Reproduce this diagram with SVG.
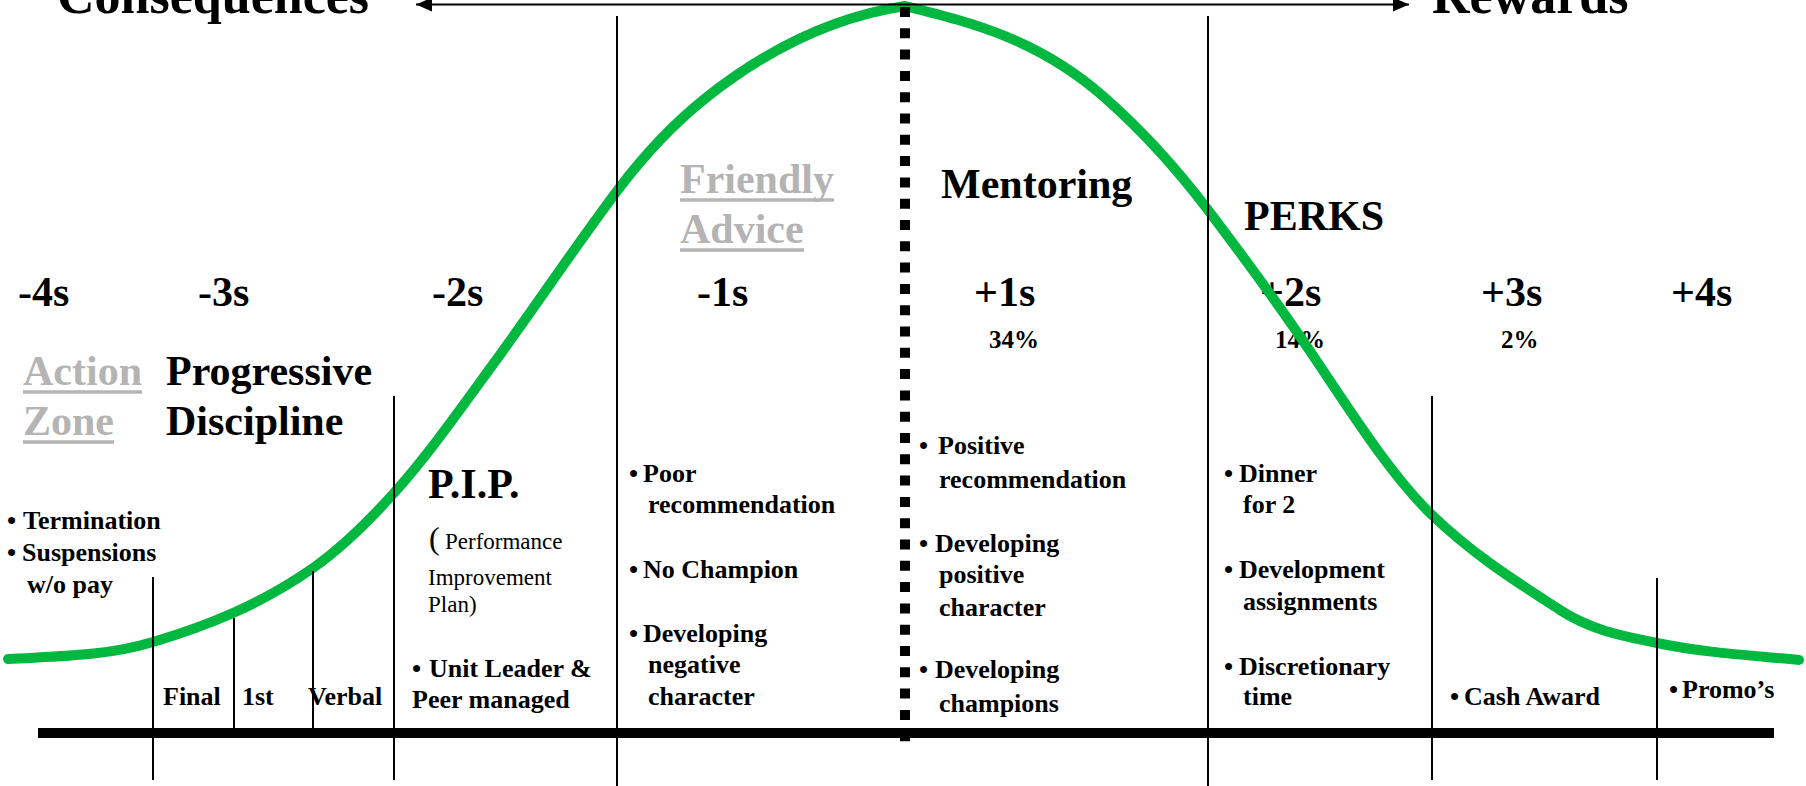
<svg xmlns="http://www.w3.org/2000/svg" width="1806" height="786" viewBox="0 0 1806 786">
  <style>
    text { font-family: "Liberation Serif", "Times New Roman", serif; font-weight: bold; fill: #000; }
    .big { font-size: 52px; }
    .h { font-size: 42px; }
    .pct { font-size: 25px; }
    .b { font-size: 26px; }
    .grey { fill: #b4b4b4; }
    .reg { font-weight: normal; font-size: 23px; }
    .paren { font-weight: normal; font-size: 32px; }
    .ul { stroke: #b4b4b4; stroke-width: 3.5; }
    .rule { stroke: #000; stroke-width: 2; fill: none; }
    .curve { stroke: #00b83f; stroke-width: 10; fill: none; stroke-linejoin: round; stroke-linecap: round; }
    .mean { stroke: #000; stroke-width: 10; stroke-dasharray: 10 11.3; fill: none; }
    .axis { stroke: #000; stroke-width: 10; }
    .span { stroke: #000; stroke-width: 2.2; fill: none; }
  </style>
  <defs>
    <marker id="tip" viewBox="0 0 16 14" refX="16" refY="7" markerWidth="16" markerHeight="14" markerUnits="userSpaceOnUse" orient="auto-start-reverse">
      <path d="M0,0 L16,7 L0,14 z" fill="#000"/>
    </marker>
  </defs>

  <!-- end labels of the scale -->
  <g id="consequences"><text class="big" x="57" y="13">Consequences</text></g>
  <g id="rewards"><text class="big" x="1432" y="13">Rewards</text></g>

  <!-- sigma scale -->
  <g id="sigma-minus4"><text class="h" x="18" y="306">-4s</text></g>
  <g id="sigma-minus3"><text class="h" x="198" y="306">-3s</text></g>
  <g id="sigma-minus2"><text class="h" x="432" y="306">-2s</text></g>
  <g id="sigma-minus1"><text class="h" x="697" y="306">-1s</text></g>
  <g id="sigma-plus1"><text class="h" x="974" y="306">+1s</text><text class="pct" x="989" y="348">34%</text></g>
  <g id="sigma-plus2"><text class="h" x="1260" y="306">+2s</text><text class="pct" x="1275" y="348">14%</text></g>
  <g id="sigma-plus3"><text class="h" x="1481" y="306">+3s</text><text class="pct" x="1501" y="348">2%</text></g>
  <g id="sigma-plus4"><text class="h" x="1671" y="306">+4s</text></g>

  <!-- zone headings -->
  <g id="action-zone">
    <text class="h grey" x="23" y="385">Action</text>
    <line class="ul" x1="23" y1="392" x2="142" y2="392"/>
    <text class="h grey" x="23" y="435">Zone</text>
    <line class="ul" x1="23" y1="442" x2="114" y2="442"/>
  </g>
  <g id="progressive-discipline">
    <text class="h" x="166" y="385">Progressive</text>
    <text class="h" x="166" y="435">Discipline</text>
  </g>
  <g id="friendly-advice">
    <text class="h grey" x="680" y="193">Friendly</text>
    <line class="ul" x1="680" y1="200" x2="834" y2="200"/>
    <text class="h grey" x="680" y="243">Advice</text>
    <line class="ul" x1="680" y1="250" x2="804" y2="250"/>
  </g>
  <g id="mentoring"><text class="h" x="941" y="198">Mentoring</text></g>
  <g id="perks"><text class="h" x="1244" y="230">PERKS</text></g>

  <!-- -4s column -->
  <g id="action-items">
    <text class="b"><tspan x="7" y="529">•</tspan><tspan x="23">Termination</tspan></text>
    <text class="b"><tspan x="7" y="561">•</tspan><tspan x="22">Suspensions</tspan></text>
    <text class="b" x="27" y="593">w/o pay</text>
  </g>

  <!-- warning steps -->
  <g id="step-final"><text class="b" x="163" y="705">Final</text></g>
  <g id="step-1st"><text class="b" x="242" y="705">1st</text></g>
  <g id="step-verbal"><text class="b" x="308" y="705">Verbal</text></g>

  <!-- -2s column -->
  <g id="pip">
    <text class="h" x="428" y="498">P.I.P.</text>
    <text><tspan class="paren" x="429" y="549">(</tspan><tspan class="reg" x="445" y="549">Performance</tspan></text>
    <text class="reg" x="428" y="585">Improvement</text>
    <text class="reg" x="428" y="612">Plan)</text>
    <text class="b"><tspan x="412" y="677">•</tspan><tspan x="429">Unit Leader &amp;</tspan></text>
    <text class="b" x="412" y="708">Peer managed</text>
  </g>

  <!-- -1s column -->
  <g id="advice-items">
    <text class="b"><tspan x="629" y="482">•</tspan><tspan x="643">Poor</tspan></text>
    <text class="b" x="648" y="513">recommendation</text>
    <text class="b"><tspan x="629" y="578">•</tspan><tspan x="643">No Champion</tspan></text>
    <text class="b"><tspan x="629" y="642">•</tspan><tspan x="643">Developing</tspan></text>
    <text class="b" x="648" y="673">negative</text>
    <text class="b" x="648" y="705">character</text>
  </g>

  <!-- +1s column -->
  <g id="mentoring-items">
    <text class="b"><tspan x="919" y="454">•</tspan><tspan x="938">Positive</tspan></text>
    <text class="b" x="939" y="488">recommendation</text>
    <text class="b"><tspan x="919" y="552">•</tspan><tspan x="935">Developing</tspan></text>
    <text class="b" x="939" y="583">positive</text>
    <text class="b" x="939" y="616">character</text>
    <text class="b"><tspan x="919" y="678">•</tspan><tspan x="935">Developing</tspan></text>
    <text class="b" x="939" y="712">champions</text>
  </g>

  <!-- +2s column -->
  <g id="perk-items">
    <text class="b"><tspan x="1224" y="482">•</tspan><tspan x="1239">Dinner</tspan></text>
    <text class="b" x="1243" y="513">for 2</text>
    <text class="b"><tspan x="1224" y="578">•</tspan><tspan x="1239">Development</tspan></text>
    <text class="b" x="1243" y="610">assignments</text>
    <text class="b"><tspan x="1224" y="675">•</tspan><tspan x="1239">Discretionary</tspan></text>
    <text class="b" x="1243" y="705">time</text>
  </g>

  <!-- +3s / +4s items -->
  <g id="cash-award"><text class="b"><tspan x="1450" y="705">•</tspan><tspan x="1464">Cash Award</tspan></text></g>
  <g id="promos"><text class="b"><tspan x="1669" y="698">•</tspan><tspan x="1682">Promo’s</tspan></text></g>

  <!-- curve, dividers, axis and direction arrow -->
  <g id="connectors">
    <path class="curve" d="M8,659
      C56.3,656.1 104.7,656.5 153,642
      C206.3,626 259.7,605.3 313,568
      C340,549.1 367,523 394,493
      C427.3,456 460.7,408.6 494,363
      C535,306.8 576,245.5 617,191
      C647,151.1 677,120.7 707,97
      C773,44.9 839,15.9 905,6
      C971.3,22.6 1037.7,38.7 1104,97
      C1138.7,127.5 1173.3,164.2 1208,210
      C1244,257.5 1280,306 1316,360
      C1354.7,418 1393.3,477.8 1432,515
      C1474.7,556 1517.3,582.2 1560,610
      C1592.3,631 1624.7,636.2 1657,643
      C1704.3,652.9 1751.7,655.3 1799,660"/>
    <line class="rule" x1="153" y1="577" x2="153" y2="780"/>
    <line class="rule" x1="234" y1="618" x2="234" y2="728"/>
    <line class="rule" x1="313" y1="571" x2="313" y2="728"/>
    <line class="rule" x1="394" y1="396" x2="394" y2="780"/>
    <line class="rule" x1="617" y1="16" x2="617" y2="786"/>
    <line class="rule" x1="1208" y1="16" x2="1208" y2="786"/>
    <line class="rule" x1="1432" y1="396" x2="1432" y2="780"/>
    <line class="rule" x1="1657" y1="578" x2="1657" y2="780"/>
    <line class="mean" x1="905" y1="7" x2="905" y2="742"/>
    <line class="axis" x1="38" y1="733" x2="1774" y2="733"/>
    <line class="span" x1="416" y1="4.5" x2="1409" y2="4.5" marker-start="url(#tip)" marker-end="url(#tip)"/>
  </g>
</svg>
